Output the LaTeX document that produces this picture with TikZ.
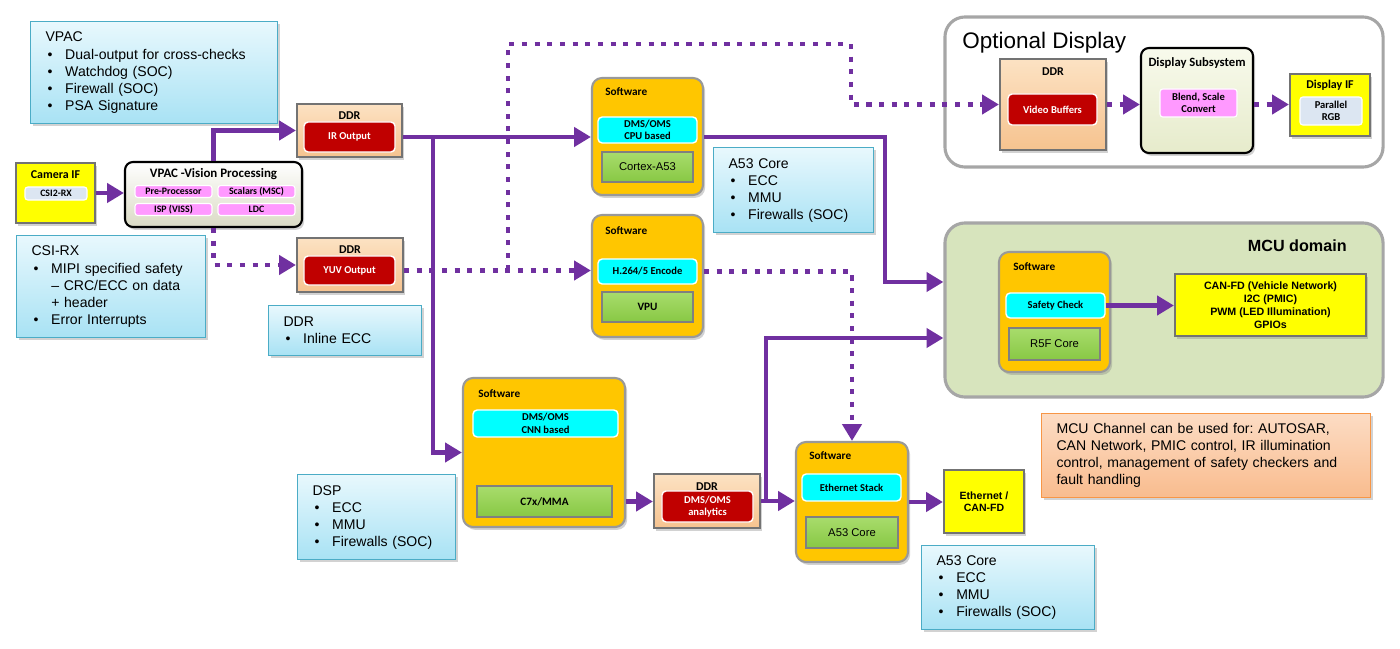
\documentclass[tikz,border=0pt]{standalone}
\usepackage{fontspec}
\setmainfont{Liberation Sans}
\newfontfamily\calib{Carlito}
\usepackage{xcolor}
\usetikzlibrary{arrows.meta, calc, positioning, shadows}
\frenchspacing

\definecolor{arrowpurple}{HTML}{7030A0}
\definecolor{notetop}{HTML}{E8F8FD}
\definecolor{notebot}{HTML}{A8E2F4}
\definecolor{notebord}{HTML}{4BACC6}
\definecolor{orangetop}{HTML}{FCDCC4}
\definecolor{orangebot}{HTML}{F9BC8E}
\definecolor{orangebord}{HTML}{F79646}
\definecolor{ddrtop}{HTML}{FCE2C3}
\definecolor{ddrbot}{HTML}{F6C38F}
\definecolor{ddrred}{HTML}{C00000}
\definecolor{swgold}{HTML}{FFC600}
\definecolor{cyanfill}{HTML}{00FFFF}
\definecolor{greentop}{HTML}{A8DC6C}
\definecolor{greenbot}{HTML}{88C844}
\definecolor{yellowfill}{HTML}{FFFF00}
\definecolor{pinkfill}{HTML}{FF99FF}
\definecolor{palefill}{HTML}{DCE6F2}
\definecolor{mcugreen}{HTML}{D7E4BD}
\definecolor{framegrey}{HTML}{A6A6A6}
\definecolor{vpacbot}{HTML}{DADAC4}
\definecolor{dsstop}{HTML}{F8FAEC}
\definecolor{dssbot}{HTML}{E6EBCB}

\newcommand{\notebullet}{\hspace*{1.5pt}\makebox[12.5pt][l]{\textbullet}}
\newcommand{\notesub}{\hspace*{14pt}}

\begin{document}
\begin{tikzpicture}[x=0.025cm, y=-0.025cm, >={Triangle[length=12pt, width=13.5pt]},
  shd/.style={drop shadow={opacity=0.35, shadow xshift=1.5pt, shadow yshift=-2pt}},
  note/.style={draw=notebord, line width=0.8pt, top color=notetop, bottom color=notebot, anchor=north west, align=left, inner xsep=0.375cm, font=\fontsize{10}{12.1}\selectfont, shd},
  orangenote/.style={note, draw=orangebord, top color=orangetop, bottom color=orangebot},
  frame/.style={draw=framegrey, line width=2.2pt, rounded corners=0.5cm},
  ddrbox/.style={draw=black!55, line width=1.5pt, top color=ddrtop, bottom color=ddrbot, shd},
  swbox/.style={draw=black!40, line width=1.5pt, rounded corners=0.25cm, fill=swgold, shd},
  yelbox/.style={draw=black!55, line width=1.5pt, fill=yellowfill, shd},
  roundbox/.style={draw=black, line width=1.5pt, rounded corners=0.2cm, shd},
  redbox/.style={draw=white, line width=1pt, rounded corners=3pt, fill=ddrred, text=white, align=center, inner sep=0pt, font=\calib\bfseries\fontsize{7.5}{8.5}\selectfont},
  cyanbox/.style={draw=white, line width=1pt, rounded corners=3pt, fill=cyanfill, align=center, inner sep=0pt, font=\calib\bfseries\fontsize{7.5}{9}\selectfont},
  greenbox/.style={draw=black!50, line width=1.2pt, top color=greentop, bottom color=greenbot, inner sep=0pt, font=\calib\bfseries\fontsize{8}{9}\selectfont},
  pinkbox/.style={draw=white, line width=0.8pt, rounded corners=2pt, fill=pinkfill, align=center, inner sep=0pt, font=\calib\bfseries\fontsize{7}{8.5}\selectfont},
  palebox/.style={draw=white, line width=0.8pt, rounded corners=2pt, fill=palefill, align=center, inner sep=0pt, font=\calib\bfseries\fontsize{7}{8.5}\selectfont},
  boxlbl/.style={inner sep=0pt, font=\calib\bfseries\fontsize{8.5}{10}\selectfont},
  swlbl/.style={boxlbl, anchor=west, font=\calib\bfseries\fontsize{8}{9}\selectfont},
  flow/.style={->, draw=arrowpurple, line width=3.5pt},
  dotflow/.style={flow, dash pattern=on 3.6pt off 5.4pt}]

  \path[use as bounding box, fill=white] (0,0) rectangle (1400,649);

  \node[frame, fill=white, minimum width=10.95cm, minimum height=3.75cm] (optdisp) at (1164,92) {};
  \node[anchor=base west, inner sep=0pt, font=\fontsize{16}{19}\selectfont] (optlbl) at (962,49) {Optional Display};
  \node[frame, fill=mcugreen, minimum width=10.95cm, minimum height=4.35cm] (mcu) at (1164,310) {};
  \node[anchor=base east, inner sep=0pt, font=\bfseries\fontsize{11.5}{13}\selectfont] (mculbl) at (1347,252) {MCU domain};

  \node[note, text width=5.425cm, minimum height=2.55cm] (vpacnote) at (30,21) {VPAC\\\notebullet Dual-output for cross-checks\\\notebullet Watchdog (SOC)\\\notebullet Firewall (SOC)\\\notebullet PSA Signature};
  \node[note, text width=3.975cm, minimum height=2.55cm] (csinote) at (16,235) {CSI-RX\\\notebullet MIPI specified safety\\\notesub -- CRC/ECC on data\\\notesub + header\\\notebullet Error Interrupts};
  \node[note, text width=3.075cm, minimum height=1.25cm] (ddrnote) at (268,305) {DDR\\\notebullet Inline ECC};
  \node[note, text width=3.25cm, minimum height=2.125cm] (a53note) at (713,147) {A53 Core\\\notebullet ECC\\\notebullet MMU\\\notebullet Firewalls (SOC)};
  \node[note, text width=3.2cm, minimum height=2.125cm] (dspnote) at (297,474) {DSP\\\notebullet ECC\\\notebullet MMU\\\notebullet Firewalls (SOC)};
  \node[note, text width=3.575cm, minimum height=2.1cm] (a53note2) at (921,545) {A53 Core\\\notebullet ECC\\\notebullet MMU\\\notebullet Firewalls (SOC)};
  \node[orangenote, text width=7.475cm, minimum height=2.1cm] (mcunote) at (1041,413) {MCU Channel can be used for: AUTOSAR,\\CAN Network, PMIC control, IR illumination\\control, management of safety checkers and\\fault handling};

  \node[yelbox, minimum width=1.975cm, minimum height=1.5cm] (camif) at (55.5,193) {};
  \node[boxlbl] (camiflbl) at (55.5,175) {Camera IF};
  \node[palebox, minimum width=1.55cm, minimum height=0.325cm] (csi2rx) at (56,193.5) {CSI2-RX};

  \node[roundbox, top color=white, bottom color=vpacbot, minimum width=4.425cm, minimum height=1.625cm] (vpac) at (213.5,194.5) {};
  \node[boxlbl, font=\calib\bfseries\fontsize{9.2}{10}\selectfont] (vpaclbl) at (213.5,174) {VPAC -Vision Processing};
  \node[pinkbox, minimum width=1.925cm, minimum height=0.3cm] (preproc) at (173.5,191.5) {Pre-Processor};
  \node[pinkbox, minimum width=1.925cm, minimum height=0.3cm] (scalers) at (256.5,191.5) {Scalars (MSC)};
  \node[pinkbox, minimum width=1.925cm, minimum height=0.3cm] (isp) at (173.5,209.5) {ISP (VISS)};
  \node[pinkbox, minimum width=1.925cm, minimum height=0.3cm] (ldc) at (256.5,209.5) {LDC};

  \node[ddrbox, minimum width=2.625cm, minimum height=1.325cm] (ddrir) at (349.5,130.5) {};
  \node[boxlbl] (ddrirlbl) at (349.5,116) {DDR};
  \node[redbox, minimum width=2.275cm, minimum height=0.75cm] (irout) at (349.5,137) {IR Output};

  \node[ddrbox, minimum width=2.65cm, minimum height=1.35cm] (ddryuv) at (350,265) {};
  \node[boxlbl] (ddryuvlbl) at (350,250) {DDR};
  \node[redbox, minimum width=2.275cm, minimum height=0.725cm] (yuvout) at (349.5,270.5) {YUV Output};

  \node[swbox, minimum width=2.775cm, minimum height=2.925cm] (sw1) at (647.5,136.5) {};
  \node[swlbl] (sw1lbl) at (605,92) {Software};
  \node[cyanbox, minimum width=2.475cm, minimum height=0.65cm] (cpudms) at (647.5,130) {DMS/OMS\\CPU based};
  \node[greenbox, minimum width=2.275cm, minimum height=0.75cm, font=\fontsize{8}{9}\selectfont] (cortex) at (647.5,167) {Cortex-A53};

  \node[swbox, minimum width=2.775cm, minimum height=3.05cm] (sw2) at (647.5,276) {};
  \node[swlbl] (sw2lbl) at (605,231) {Software};
  \node[cyanbox, minimum width=2.475cm, minimum height=0.625cm] (h264) at (647.5,271.5) {H.264/5 Encode};
  \node[greenbox, minimum width=2.275cm, minimum height=0.75cm] (vpu) at (647.5,307) {VPU};

  \node[swbox, minimum width=4.05cm, minimum height=3.725cm] (swcnn) at (544,452.5) {};
  \node[swlbl] (swcnnlbl) at (478,394) {Software};
  \node[cyanbox, minimum width=3.625cm, minimum height=0.675cm] (cnndms) at (545.5,423.5) {DMS/OMS\\CNN based};
  \node[greenbox, minimum width=3.375cm, minimum height=0.775cm] (c7x) at (544.5,501.5) {C7x/MMA};

  \node[ddrbox, minimum width=2.65cm, minimum height=1.35cm] (ddrana) at (707,501) {};
  \node[boxlbl] (ddranalbl) at (707,486.5) {DDR};
  \node[redbox, minimum width=2.275cm, minimum height=0.775cm] (anaout) at (707.5,506.5) {DMS/OMS\\analytics};

  \node[swbox, minimum width=2.8cm, minimum height=3.0cm] (sweth) at (852,502) {};
  \node[swlbl] (swethlbl) at (809,456) {Software};
  \node[cyanbox, minimum width=2.475cm, minimum height=0.675cm] (ethstack) at (851.5,487.5) {Ethernet Stack};
  \node[greenbox, minimum width=2.3cm, minimum height=0.775cm, font=\fontsize{8}{9}\selectfont] (a53eth) at (852,532.5) {A53 Core};

  \node[yelbox, minimum width=2.0cm, minimum height=1.575cm, align=center, inner sep=0pt, font=\bfseries\fontsize{7.5}{8.5}\selectfont] (ethcan) at (984,501.5) {Ethernet /\\CAN-FD};

  \node[ddrbox, minimum width=2.65cm, minimum height=2.275cm] (ddrvid) at (1053,104.5) {};
  \node[boxlbl] (ddrvidlbl) at (1053,72) {DDR};
  \node[redbox, minimum width=2.225cm, minimum height=0.775cm] (vidbuf) at (1052.5,109.5) {Video Buffers};

  \node[roundbox, top color=dsstop, bottom color=dssbot, minimum width=2.8cm, minimum height=2.625cm] (dss) at (1197,100.5) {};
  \node[boxlbl, font=\calib\bfseries\fontsize{9}{10}\selectfont] (dsslbl) at (1197,63) {Display Subsystem};
  \node[pinkbox, minimum width=1.925cm, minimum height=0.7cm, font=\calib\bfseries\fontsize{7.5}{9}\selectfont] (blend) at (1198.5,103) {Blend, Scale\\Convert};

  \node[yelbox, minimum width=2.0cm, minimum height=1.55cm] (dispif) at (1330,105) {};
  \node[boxlbl] (dispiflbl) at (1330,85) {Display IF};
  \node[palebox, minimum width=1.55cm, minimum height=0.7cm, font=\calib\bfseries\fontsize{7.5}{9}\selectfont] (prgb) at (1331,111) {Parallel\\RGB};

  \node[swbox, minimum width=2.775cm, minimum height=3.0cm] (swmcu) at (1054.5,312) {};
  \node[swlbl] (swmculbl) at (1013,267) {Software};
  \node[cyanbox, minimum width=2.475cm, minimum height=0.625cm] (safety) at (1055.5,305.5) {Safety Check};
  \node[greenbox, minimum width=2.275cm, minimum height=0.8cm, font=\fontsize{8}{9}\selectfont] (r5f) at (1054.5,344) {R5F Core};

  \node[yelbox, minimum width=4.775cm, minimum height=1.55cm, align=center, inner sep=0pt, font=\bfseries\fontsize{7.6}{9.2}\selectfont] (canfd) at (1270.5,305) {CAN-FD (Vehicle Network)\\I2C (PMIC)\\PWM (LED Illumination)\\GPIOs};

  \coordinate (irsplit) at (433,137);
  \coordinate (vidsplit) at (508,44);
  \coordinate (vidturn) at (851,44);
  \coordinate (mcuturn1) at (885,282);
  \coordinate (mcuturn2) at (766,338);

  \draw[flow] (camif.east) -- (camif.east -| vpac.west);
  \draw[flow] (vpac.north) |- (ddrir.west);
  \draw[flow] (irout.east -| ddrir.east) -- (irout.east -| sw1.west);
  \draw[flow] (irsplit) |- (swcnn.west);
  \draw[flow] (irout.east -| sw1.east) -| (mcuturn1) -- (mcuturn1 -| mcu.west);
  \draw[flow] (c7x.east -| swcnn.east) -- (c7x.east -| ddrana.west);
  \draw[flow] (ddrana.east) -- (ddrana.east -| sweth.west);
  \draw[flow] (mcuturn2 |- ddrana.east) -- (mcuturn2) -- (mcuturn2 -| mcu.west);
  \draw[flow] (sweth.east) -- (sweth.east -| ethcan.west);
  \draw[flow] (safety.east) -- (safety.east -| canfd.west);

  \draw[dotflow] (vpac.south) |- (ddryuv.west);
  \draw[dotflow] (yuvout.east -| ddryuv.east) -- (yuvout.east -| sw2.west);
  \draw[dotflow] (vidsplit |- yuvout.east) -- (vidsplit) -- (vidturn) |- (ddrvid.west);
  \draw[dotflow] (h264.east -| sw2.east) -| (sweth.north);
  \draw[dotflow] (ddrvid.east) -- (ddrvid.east -| dss.west);
  \draw[dotflow] (ddrvid.east -| dss.east) -- (ddrvid.east -| dispif.west);
\end{tikzpicture}
\end{document}
